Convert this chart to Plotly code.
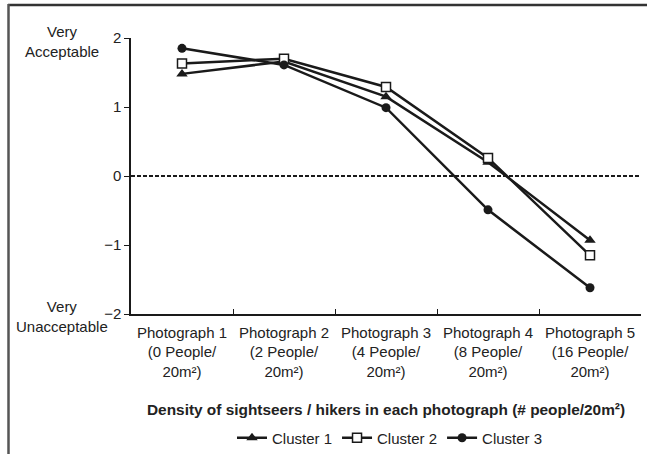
import plotly.graph_objects as go

categories = ["Photograph 1<br>(0 People/<br>20m²)", "Photograph 2<br>(2 People/<br>20m²)",
              "Photograph 3<br>(4 People/<br>20m²)", "Photograph 4<br>(8 People/<br>20m²)",
              "Photograph 5<br>(16 People/<br>20m²)"]
cluster1 = [1.48, 1.66, 1.15, 0.20, -0.93]
cluster2 = [1.63, 1.70, 1.29, 0.26, -1.15]
cluster3 = [1.85, 1.61, 0.99, -0.49, -1.62]
y_ticks = [-2, -1, 0, 1, 2]

W, H = 647, 454
L, R, T, B = 131, 6, 38, 140
PW, PH = W - L - R, H - T - B

def px_x(p):
    return (p - L) / PW

def px_y(p):
    return (H - B - p) / PH

ink = "#1a1a1a"
fig = go.Figure()
series = [("Cluster 1", cluster1, dict(symbol="triangle-up", size=10, color=ink)),
          ("Cluster 2", cluster2, dict(symbol="square", size=9, color="white", line=dict(color=ink, width=1.5))),
          ("Cluster 3", cluster3, dict(symbol="circle", size=9, color=ink))]
for name, vals, mk in series:
    fig.add_trace(go.Scatter(x=categories, y=vals, name=name, mode="lines+markers",
                             line=dict(color=ink, width=2.5), marker=mk))

fig.add_shape(type="line", xref="paper", yref="y", x0=0, x1=1, y0=0, y1=0,
              line=dict(color=ink, width=2, dash="4px,2px"))
# outer frame (top and left)
fig.add_shape(type="line", xref="paper", yref="paper", x0=px_x(8), x1=px_x(647), y0=px_y(5), y1=px_y(5),
              line=dict(color="#333333", width=2.5))
fig.add_shape(type="line", xref="paper", yref="paper", x0=px_x(8.5), x1=px_x(8.5), y0=px_y(4), y1=px_y(454),
              line=dict(color="#555555", width=2.5))

fig.add_annotation(text="Very<br>Acceptable", xref="paper", yref="paper", x=px_x(62), y=px_y(42),
                   showarrow=False, xanchor="center", yanchor="middle", font=dict(size=15, color="#222"))
fig.add_annotation(text="Very<br>Unacceptable", xref="paper", yref="paper", x=px_x(62), y=px_y(316),
                   showarrow=False, xanchor="center", yanchor="middle", font=dict(size=15, color="#222"))
fig.add_annotation(text="<b>Density of sightseers / hikers in each photograph (# people/20m²)</b>",
                   xref="paper", yref="paper", x=0.5, y=px_y(409), showarrow=False,
                   xanchor="center", yanchor="middle", font=dict(size=15.4, color="#222"))

fig.update_layout(
    width=W, height=H, margin=dict(l=L, r=R, t=T, b=B),
    paper_bgcolor="white", plot_bgcolor="white",
    font=dict(family="Liberation Sans, Arial, sans-serif", size=15, color="#222"),
    showlegend=True,
    legend=dict(orientation="h", xref="container", yref="container",
                x=390 / W, xanchor="center", y=(H - 438) / H, yanchor="middle",
                font=dict(size=15), itemwidth=30, traceorder="normal"),
    xaxis=dict(type="category", showline=True, linecolor=ink, linewidth=1.5, ticks="inside",
               tickson="boundaries", ticklen=5, tickcolor=ink, showgrid=False, zeroline=False,
               range=[-0.5, 4.5], ticklabelstandoff=4, automargin=False),
    yaxis=dict(range=[-2, 2], tickvals=y_ticks, showline=True, linecolor=ink, linewidth=1.5,
               ticks="outside", ticklen=5, tickcolor=ink, showgrid=False, zeroline=False,
               automargin=False),
)
fig.write_html("out.html", config={"displayModeBar": False},
               post_script="document.body.style.margin='0';document.body.style.overflow='hidden';")
